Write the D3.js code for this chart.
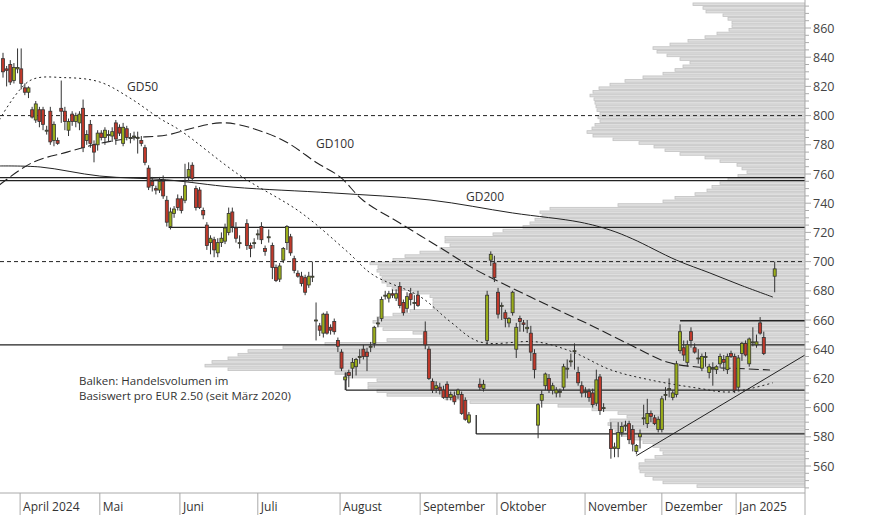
<!DOCTYPE html>
<html><head><meta charset="utf-8">
<script src="https://cdn.jsdelivr.net/npm/d3@7"></script>
<style>body{margin:0;background:#fff}svg{display:block;font-family:"Open Sans",sans-serif}</style>
</head><body><svg id="c" width="874" height="515"></svg>
<script>
// Candles [open, high, low, close] per trading-day slot (null = no candle)
const candles = [
[839,843,826,830],[832,834,820,831],[835,838,821,823],[824,836,822,833],[832,846,829,833],[832,846,818,822],[819,822,814,816],[816,820,812,819],
[804,806,798,799],[797,810,795,808],[804,806,792,796],[804,806,790,794],[790,793,787,790],[803,806,780,782],[783,796,779,794],[783,785,780,781],
[805,824,795,803],[803,806,790,796],[790,798,786,796],[801,803,793,796],[796,802,792,800],[795,803,790,801],[805,811,775,778],[783,790,780,787],
[794,797,778,781],[780,783,768,775],[780,790,776,788],[788,790,783,785],[785,792,780,790],[787,790,782,787],[786,792,782,789],[795,797,780,784],
[792,794,786,788],[781,795,779,792],[791,793,783,785],[785,788,781,785],[786,789,783,786],[785,789,774,785],[783,786,779,781],[778,780,766,768],
[764,766,749,751],[755,758,748,752],[750,752,746,749],[749,758,747,755],[755,759,743,745],[742,745,724,727],[724,737,722,734],[733,738,730,736],
[743,746,735,737],[743,745,733,735],[742,767,740,752],[758,768,755,763],[766,768,755,757],[750,752,735,737],[749,751,736,737],[735,737,729,732],
[725,727,708,711],[713,718,705,716],[715,717,703,708],[706,716,703,713],[713,720,710,716],[714,726,712,723],[720,737,718,733],[734,737,720,724],
[723,727,713,716],[713,718,709,713],null,[726,729,708,711],[711,713,703,709],[713,716,709,713],[719,722,715,719],[724,727,712,715],
[709,711,704,707],[717,722,713,717],[711,713,688,696],[696,698,686,687],[688,699,686,697],[701,710,699,709],[713,725,708,724],[717,719,704,706],
[702,704,692,694],[692,694,689,690],[690,693,683,685],[689,691,677,679],[684,693,682,690],[690,700,686,690],[660,672,646,660],[656,658,649,653],
[651,665,648,664],[664,666,650,651],[655,657,650,653],[659,661,650,652],[646,648,638,642],[638,640,625,627],[619,624,612,621],[624,626,614,622],
[627,634,620,631],[628,634,622,633],[635,640,630,635],[640,643,633,635],[638,641,625,635],[642,645,638,642],[644,656,641,655],[658,662,655,658],
[661,676,659,674],[677,680,674,677],[675,680,672,678],[678,681,675,677],[675,681,673,678],[683,686,668,670],[672,674,663,665],[668,679,665,676],
[678,682,670,674],[672,677,667,672],[677,680,669,670],null,[652,659,640,643],[640,642,619,620],[618,620,610,612],[613,618,610,615],
[614,617,609,612],[612,615,606,607],[616,618,605,607],[607,611,605,609],[608,611,602,604],[609,613,606,612],[609,611,595,596],[605,607,591,592],
[590,597,589,595],null,null,[616,620,612,614],[613,619,611,616],[646,680,643,677],[701,707,697,705],[699,704,686,689],
[679,682,661,664],[670,672,660,670],[665,667,655,661],[658,662,655,661],[665,680,663,679],[640,658,634,655],[661,663,652,659],[658,660,652,657],
[654,660,651,655],[651,656,632,638],[637,640,620,626],[588,603,579,602],[605,612,600,609],[615,624,612,623],[620,623,610,612],[612,617,609,615],
[610,614,607,612],[611,613,607,611],[614,630,612,628],[627,633,620,627],[632,637,628,632],[639,644,626,639],[624,628,615,617],[615,618,607,610],
[611,614,607,611],[611,613,604,607],[610,613,600,602],[603,626,601,619],[621,623,595,598],[600,603,597,600],null,[585,590,565,572],
[572,576,566,573],[572,590,566,583],[583,590,580,587],[588,591,584,588],[589,591,575,578],[585,588,570,575],[570,575,568,574],[580,585,572,582],
[593,602,588,593],[589,606,586,596],[596,598,590,594],[593,595,588,589],[585,594,583,592],[585,608,583,606],[609,614,605,609],[613,620,607,613],
[607,612,605,610],[609,632,607,630],[639,657,637,652],[641,646,632,636],[631,646,628,643],[652,655,641,646],[641,644,637,638],[634,640,630,634],
[627,637,625,635],[635,638,628,635],[624,630,620,628],[627,631,615,627],[626,629,623,628],[630,637,627,635],[633,636,625,631],[626,637,623,635],
[637,639,634,635],[635,637,610,612],[614,636,612,634],[637,645,632,644],[644,646,635,636],[630,648,628,647],[645,655,642,645],[643,650,641,645],
[658,662,650,651],[648,652,636,637],null,null,[690,700,679,695]
];
// Moving averages: [slot, value]
const gd50 = [[-1,797],[7.4,824],[17,826],[26.6,823],[34.9,812],[43.1,798],[48.6,790],[65.1,759],[81.6,734],[94.5,707],[101.6,691],[114.6,676],[122.8,659],[131,645],[146.7,645],[156.6,638],[166.8,626],[177.7,619],[190.7,613.4],[199.7,610.7],[211.5,617]];
const gd100 = [[-1,752.5],[8.2,768],[17.6,775],[26.6,781],[35.7,784.7],[45,786.7],[52.2,791.5],[59.6,795],[65.1,793.6],[77,783],[86.3,767.5],[92.6,758],[98.9,742],[109,726.4],[122,706.6],[129,695.6],[136.5,686],[148.4,671.6],[161.3,656.6],[172.3,643],[182.4,631.2],[190.7,627.8],[199.7,627],[210.7,625.8]];
const gd200 = [[-1,765.5],[10.2,764.8],[26.6,758.6],[45,756],[63.2,751],[90.7,747],[117.3,742.2],[140,733.3],[158.5,727],[166.8,721.6],[173,715.5],[185,701],[194.2,692.2],[202.5,684],[211.5,675.7]];
// Volume profile: bin lower bounds (EUR 2.50 bins) and volumes
const profileLow = d3.range(875, 544, -2.5);
const profileVol = [112,102,99,82,77,73,73,76,88,100,117,135,152,148,138,125,115,122,130,142,162,180,195,206,212,215,211,210,209,208,205,207,205,210,213,218,212,192,166,151,140,125,100,85,68,63,58,67,77,85,93,98,110,130,142,187,255,265,263,270,275,282,302,312,360,360,355,365,385,400,412,435,427,428,425,423,423,418,413,392,375,372,372,372,395,412,428,432,427,422,392,382,418,480,522,557,567,577,593,600,577,470,458,428,437,437,428,418,360,335,247,213,187,178,195,197,194,190,182,172,162,152,145,142,150,160,166,166,165,160,152,142,108];
// Month ticks: [label, slot]
const monthLabels = ["April 2024","Mai","Juni","Juli","August","September","Oktober","November","Dezember","Jan 2025"];
const monthSlots = [4.7,26.6,48.6,70,92.6,114.6,135.7,159.9,181,201.4];
const yTicks = d3.range(560, 861, 20);
// Horizontal support/resistance lines: [fromSlot or null, value, dashed]
const hLines = [[null,757.5,false],[null,755.5,false],[45.5,723.5,false],[null,643,false],[186,659.5,false],[94.2,612,false],[130,582,false],[null,800,true],[null,700,true]];
const hVert = [[94.2,624,612],[130,595,582]];
const trend = [[174,567],[220.3,636]];

const svg = d3.select("#c");
const R = 805, B = 493;
const x = d3.scaleLinear().domain([0,212]).range([3,774.7]);
const y = d3.scaleLinear().domain([560,860]).range([466,28]);
const vx = d3.scaleLinear().domain([0,1]).range([0,1]);
const defs = svg.append("defs");
defs.append("clipPath").attr("id","pc").append("rect").attr("x",0).attr("y",0).attr("width",R).attr("height",B);
const g = svg.append("g").attr("clip-path","url(#pc)");

g.selectAll("rect.vp").data(profileVol).join("rect")
 .attr("x",d=>R-vx(d)).attr("width",d=>vx(d))
 .attr("y",(d,i)=>y(profileLow[i]+2.5)+0.5).attr("height",(d,i)=>y(profileLow[i])-y(profileLow[i]+2.5)-1)
 .attr("fill","#dedede").attr("stroke","#c2c2c2").attr("stroke-width",0.8);

hLines.forEach(([s,v,dash])=>{
  g.append("line").attr("x1",s==null?0:x(s)).attr("x2",R).attr("y1",y(v)).attr("y2",y(v))
   .attr("stroke","#222").attr("stroke-width",dash?1:1.3).attr("stroke-dasharray",dash?"4,3":null);
});
hVert.forEach(([s,a,b])=>g.append("line").attr("x1",x(s)).attr("x2",x(s)).attr("y1",y(a)).attr("y2",y(b)).attr("stroke","#222").attr("stroke-width",1.3));
g.append("line").attr("x1",x(trend[0][0])).attr("y1",y(trend[0][1])).attr("x2",x(trend[1][0])).attr("y2",y(trend[1][1])).attr("stroke","#222").attr("stroke-width",1);

const ln = d3.line().x(d=>x(d[0])).y(d=>y(d[1])).curve(d3.curveCatmullRom);
g.append("path").attr("d",ln(gd50)).attr("fill","none").attr("stroke","#222").attr("stroke-width",1).attr("stroke-dasharray","2,3");
g.append("path").attr("d",ln(gd100)).attr("fill","none").attr("stroke","#222").attr("stroke-width",1.1).attr("stroke-dasharray","10,4");
g.append("path").attr("d",ln(gd200)).attr("fill","none").attr("stroke","#222").attr("stroke-width",1);

const cd = candles.map((c,i)=>c&&{i,o:c[0],h:c[1],l:c[2],c:c[3]}).filter(Boolean);
const cg = g.selectAll("g.cd").data(cd).join("g");
cg.append("line").attr("x1",d=>x(d.i)).attr("x2",d=>x(d.i)).attr("y1",d=>y(d.h)).attr("y2",d=>y(d.l)).attr("stroke","#333").attr("stroke-width",1);
cg.append("rect").attr("x",d=>x(d.i)-1.5).attr("width",3)
 .attr("y",d=>y(Math.max(d.o,d.c))).attr("height",d=>Math.max(1,Math.abs(y(d.o)-y(d.c))))
 .attr("fill",d=>d.c>=d.o?"#9aad1a":"#c0392b").attr("stroke","#333").attr("stroke-width",0.8);

const T=(tx,ty,s,fs)=>svg.append("text").attr("x",tx).attr("y",ty).text(s).attr("font-size",fs||12).attr("fill","#333");
T(127,91,"GD50");T(316,148,"GD100");T(466,201,"GD200");
T(79,385,"Balken: Handelsvolumen im",11.5);T(79,400,"Basiswert pro EUR 2.50 (seit März 2020)",11.5);

svg.append("line").attr("x1",R).attr("x2",R).attr("y1",0).attr("y2",515).attr("stroke","#aaa");
d3.range(545,880,5).forEach(v=>{ if(y(v)<0||y(v)>B) return;
  svg.append("line").attr("x1",R).attr("x2",R+(v%20===0?6:4)).attr("y1",y(v)).attr("y2",y(v)).attr("stroke","#aaa");});
svg.selectAll("text.yt").data(yTicks).join("text").attr("x",813).attr("y",d=>y(d)+4.5).text(d=>d).attr("font-size",12.5).attr("fill","#444");
svg.append("line").attr("x1",0).attr("x2",R).attr("y1",B).attr("y2",B).attr("stroke","#aaa");
monthSlots.forEach((s,i)=>{
  svg.append("line").attr("x1",x(s)).attr("x2",x(s)).attr("y1",B).attr("y2",515).attr("stroke","#aaa");
  svg.append("text").attr("x",x(s)+3).attr("y",511).text(monthLabels[i]).attr("font-size",12).attr("fill","#333");
});
</script></body></html>
